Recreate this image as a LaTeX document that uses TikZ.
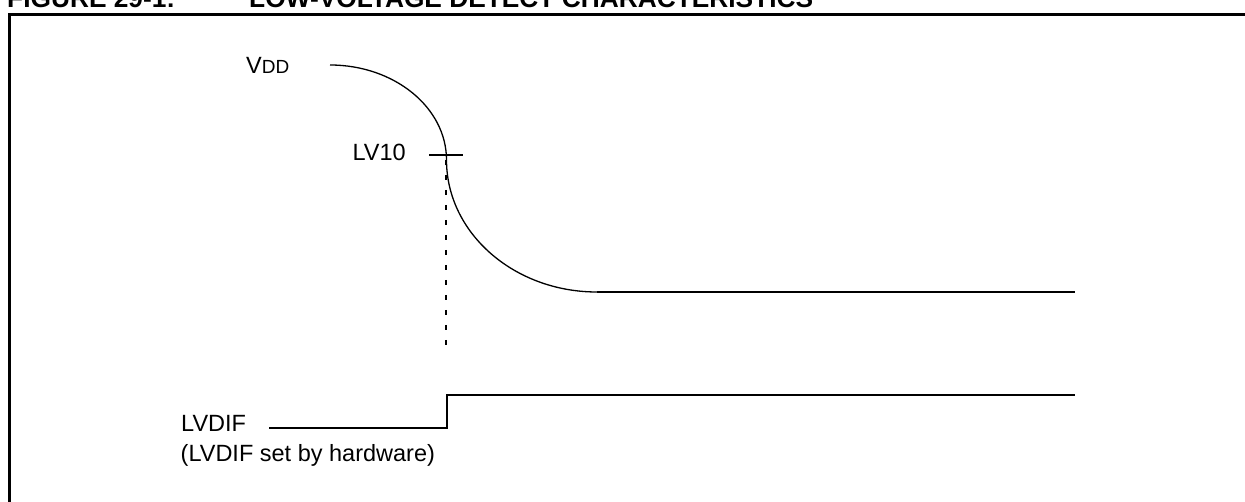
\documentclass[tikz,border=0pt]{standalone}
\usepackage{fontspec}
\setmainfont{Liberation Sans}
\tikzset{
  lbl/.style={anchor=base west, inner sep=0pt, font=\fontsize{23.5}{28}\selectfont},
  ttl/.style={anchor=base west, inner sep=0pt, font=\fontsize{26.3}{30}\selectfont\bfseries},
  curve/.style={line width=1.3pt},
  sigline/.style={line width=2pt},
  guide/.style={line width=2pt, dash pattern=on 5.5pt off 9.5pt},
}

\begin{document}
\begin{tikzpicture}[x=1pt, y=-1pt]
\useasboundingbox (0,0) rectangle (1245,502);
\clip (0,0) rectangle (1245,502);
% frame and caption
\coordinate (fbot) at (9.7,530);
\coordinate (fcorner) at (9.7,14.7);
\coordinate (fright) at (1270,14.7);
\draw[line width=2.5pt] (fbot) -- (fcorner) -- (fright);
\node[ttl] (fig) at (7,7.5) {FIGURE 29-1:};
\node[ttl] (title) at (249,7.5) {LOW-VOLTAGE DETECT CHARACTERISTICS};
% VDD trace
\coordinate (vstart) at (330,65);
\coordinate (trip) at (446.5,160);
\coordinate (knee) at (597,292);
\coordinate (stub) at (647,292);
\coordinate (vend) at (1075,292);
\draw[curve] (vstart) .. controls (394.3,65) and (446.5,107.5) .. (trip)
  .. controls (446.5,232.9) and (513.9,292) .. (knee);
\draw[sigline] (knee) -- (vend);
\draw[line width=2.7pt] (knee) -- (stub);
\node[lbl] (vdd) at (246,73.5) {V{\fontsize{19}{22}\selectfont DD}};
% trip point
\coordinate (tickl) at (429,155);
\coordinate (tickr) at (463,155);
\draw[sigline] (tickl) -- (tickr);
\node[lbl] (lvten) at (352.4,161) {LV10};
\coordinate (dtop) at (446,160);
\coordinate (dbot) at (446,353);
\draw[guide] (dtop) -- (dbot);
% LVDIF flag
\coordinate (lowstart) at (269,428.3);
\coordinate (rise) at (447,428.3);
\coordinate (high) at (447,395);
\coordinate (hend) at (1075,395);
\draw[sigline] (lowstart) -- (rise) -- (high) -- (hend);
\node[lbl] (lvdif) at (181,431.5) {LVDIF};
\node[lbl] (hwnote) at (180.5,461.5) {(LVDIF set by hardware)};
\end{tikzpicture}
\end{document}
